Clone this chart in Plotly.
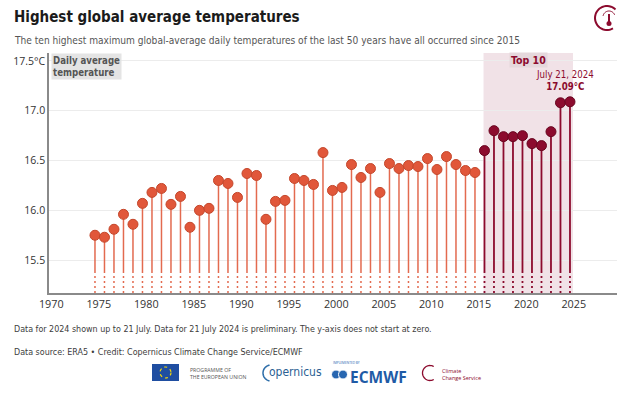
import math
import plotly.graph_objects as go

# ---------------- data ----------------
years = list(range(1974, 2025))
temps = [15.75, 15.73, 15.81, 15.96, 15.86, 16.07, 16.18, 16.22, 16.06, 16.14,
         15.83, 16.00, 16.02, 16.30, 16.27, 16.13, 16.37, 16.35, 15.91, 16.09,
         16.10, 16.32, 16.30, 16.26, 16.58, 16.20, 16.23, 16.46, 16.33, 16.42,
         16.18, 16.47, 16.42, 16.45, 16.44, 16.52, 16.41, 16.54, 16.46, 16.40,
         16.38, 16.60, 16.80, 16.74, 16.74, 16.75, 16.67, 16.65, 16.79, 17.08,
         17.09]
x_ticks = [1970, 1975, 1980, 1985, 1990, 1995, 2000, 2005, 2010, 2015, 2020, 2025]
y_ticks = [15.5, 16.0, 16.5, 17.0, 17.5]
y_ticktext = ["15.5", "16.0", "16.5", "17.0", "17.5°C"]
peak_fraction = 0.6          # the daily maximum falls around mid-summer
y_bottom, y_break, y_top = 15.17, 15.39, 17.58
x_left, x_right = 1969.76, 2029.55

top10 = sorted(range(len(temps)), key=lambda i: temps[i], reverse=True)[:10]

ORANGE = "#e1573a"
ORANGE_STEM = "#e36a4f"
DARK = "#8c0b2e"
NARROW = "Liberation Sans Narrow, DejaVu Sans Condensed, Roboto Condensed, Arial Narrow, sans-serif"
REG = "Open Sans, DejaVu Sans, sans-serif"

# plot-area geometry (pixels)
W, H = 630, 396
PL, PR, PT, PB = 49, 617, 53, 293


def px(x, y):
    return (x - PL) / (PR - PL), (PB - y) / (PB - PT)


fig = go.Figure()

groups = {
    "normal": [i for i in range(len(temps)) if i not in top10],
    "top": sorted(top10),
}
for name, idx in groups.items():
    col = DARK if name == "top" else ORANGE
    scol = DARK if name == "top" else ORANGE_STEM
    sx, sy, dx, dy = [], [], [], []
    for i in idx:
        xv = years[i] + peak_fraction
        sx += [xv, xv, None]
        sy += [temps[i], y_break, None]
        dx += [xv, xv, None]
        dy += [y_break, y_bottom, None]
    fig.add_trace(go.Scatter(x=sx, y=sy, mode="lines",
                             line=dict(color=scol, width=1.8 if name == "top" else 1.5),
                             hoverinfo="skip", showlegend=False))
    fig.add_trace(go.Scatter(x=dx, y=dy, mode="lines",
                             line=dict(color=scol, width=1.8 if name == "top" else 1.5,
                                       dash="2px,3px"),
                             hoverinfo="skip", showlegend=False))
    fig.add_trace(go.Scatter(
        x=[years[i] + peak_fraction for i in idx], y=[temps[i] for i in idx],
        mode="markers",
        marker=dict(size=10, color=col,
                    line=dict(color="#6a0620" if name == "top" else "#c4472b", width=1)),
        showlegend=False, cliponaxis=False))

shapes = []
# Top 10 shading
first_top = min(years[i] for i in top10)
last_top = max(years[i] for i in top10)
shapes.append(dict(type="rect", xref="x", yref="paper",
                   x0=first_top + peak_fraction - 0.1, x1=last_top + peak_fraction + 0.32,
                   y0=0, y1=1, fillcolor="#f1e2e7", line=dict(width=0), layer="below"))

# EU flag
x0, y0 = px(152, 381)
x1, y1 = px(179, 364)
shapes.append(dict(type="rect", xref="paper", yref="paper", x0=x0, y0=y0, x1=x1, y1=y1,
                   fillcolor="#1f4ea1", line=dict(width=0)))
x0, y0 = px(160, 378)
x1, y1 = px(171, 367)
shapes.append(dict(type="circle", xref="paper", yref="paper", x0=x0, y0=y0, x1=x1, y1=y1,
                   line=dict(color="#f5d90a", width=1.2, dash="dot")))
# ECMWF icon
for cx in (336, 343):
    a, b = px(cx - 4.5, 379)
    c, d = px(cx + 4.5, 370)
    shapes.append(dict(type="circle", xref="paper", yref="paper", x0=a, y0=b, x1=c, y1=d,
                       fillcolor="#2766b0", line=dict(color="white", width=1)))


def arc_path(cx, cy, r, a0, a1, n=30):
    pts = []
    for k in range(n + 1):
        a = math.radians(a0 + (a1 - a0) * k / n)
        X, Y = px(cx + r * math.cos(a), cy - r * math.sin(a))
        pts.append(f"{X:.5f},{Y:.5f}")
    return "M" + " L".join(pts)


# copernicus arc, climate arc, top-right icon
shapes.append(dict(type="path", xref="paper", yref="paper",
                   path=arc_path(271, 373, 8, 100, 260), line=dict(color="#2b6ca8", width=1.5)))
shapes.append(dict(type="path", xref="paper", yref="paper",
                   path=arc_path(430, 373, 7.5, 60, 300), line=dict(color=DARK, width=1.3)))
shapes.append(dict(type="path", xref="paper", yref="paper",
                   path=arc_path(607, 18, 12, 45, 300), line=dict(color=DARK, width=2)))
shapes.append(dict(type="path", xref="paper", yref="paper",
                   path=arc_path(609, 17, 6, 20, 170), line=dict(color=DARK, width=1)))
a, b = px(609, 14)
c, d = px(609, 23)
shapes.append(dict(type="line", xref="paper", yref="paper", x0=a, y0=b, x1=c, y1=d,
                   line=dict(color=DARK, width=2)))
a, b = px(606.5, 26)
c, d = px(611.5, 21)
shapes.append(dict(type="circle", xref="paper", yref="paper", x0=a, y0=b, x1=c, y1=d,
                   fillcolor=DARK, line=dict(width=0)))

annotations = []


def text(x, y, t, size, color, family=NARROW, anchor="left", bg=None, yanchor="middle"):
    X, Y = px(x, y)
    d = dict(xref="paper", yref="paper", x=X, y=Y, text=t, showarrow=False,
             xanchor=anchor, yanchor=yanchor, align=anchor if anchor != "center" else "center",
             font=dict(size=size, color=color, family=family))
    if bg:
        d["bgcolor"] = bg
    annotations.append(d)


text(12, 17, "<b>Highest global average temperatures</b>", 15.0, "#1b1b1b")
text(12, 41, "The ten highest maximum global-average daily temperatures of the last 50 years have all occurred since 2015",
     10.1, "#555555")
text(51, 66, "<b>Daily average<br>temperature</b>", 9.6, "#555555", bg="#e4e4e4")
text(12, 329, "Data for 2024 shown up to 21 July. Data for 21 July 2024 is preliminary. The y-axis does not start at zero.",
     8.9, "#3d3d3d")
text(12, 352, "Data source: ERA5 • Credit: Copernicus Climate Change Service/ECMWF", 8.9, "#3d3d3d")
text(188, 373, "PROGRAMME OF<br>THE EUROPEAN UNION", 5.2, "#555555", family=REG)
text(267, 372, "opernicus", 12, "#2b5f93")
text(331, 363, "IMPLEMENTED BY", 3.2, "#2766b0", family=REG)
text(348, 377, "<b>ECMWF</b>", 15.5, "#1f5ba6", family=REG)
text(440, 374, "Climate<br>Change Service", 5.5, DARK, family=REG)

# chart annotations
annotations.append(dict(x=(first_top + last_top) / 2 + peak_fraction + 0.1, y=17.51, xref="x", yref="y",
                        text="<b>Top 10</b>", showarrow=False, bgcolor="#e5d8dc",
                        font=dict(size=10.5, color=DARK, family=NARROW)))
i_max = top10[0]
annotations.append(dict(x=years[i_max] + peak_fraction - 0.55, y=temps[i_max] + 0.08, xref="x", yref="y",
                        text=f"July 21, {years[i_max]}<br><b>{temps[i_max]:.2f}°C</b>",
                        showarrow=False, yanchor="bottom", align="center",
                        font=dict(size=9.6, color=DARK, family=NARROW)))

fig.update_layout(
    width=W, height=H,
    margin=dict(l=PL, r=W - PR, t=PT, b=H - PB, autoexpand=False),
    plot_bgcolor="white", paper_bgcolor="white",
    shapes=shapes, annotations=annotations,
    hovermode=False,
    xaxis=dict(range=[x_left, x_right], tickvals=x_ticks, showgrid=False, zeroline=False,
               showline=True, linecolor="#8a8a8a", linewidth=1.5, ticks="", automargin=False,
               tickfont=dict(size=10.8, color="#333333", family=REG)),
    yaxis=dict(range=[y_bottom, y_top], tickvals=y_ticks, ticktext=y_ticktext,
               showgrid=True, gridcolor="#ececec", gridwidth=1, zeroline=False,
               showline=True, linecolor="#8a8a8a", linewidth=1.5, ticks="", automargin=False,
               tickfont=dict(size=10.5, color="#333333", family=REG)),
)

fig.write_html("out.html", config={"displayModeBar": False},
               post_script="document.body.style.margin='0';document.body.style.padding='0';")
